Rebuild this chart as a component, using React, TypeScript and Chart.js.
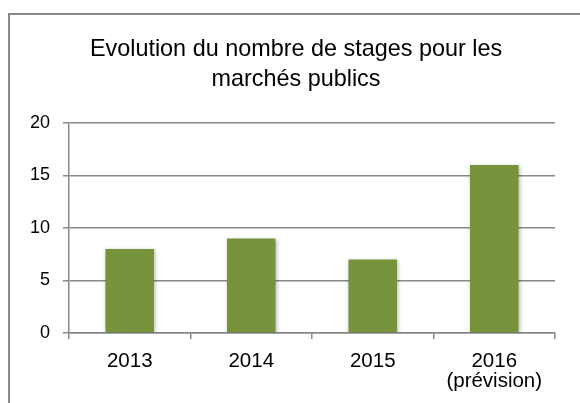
import React, { useEffect, useRef } from "react";
import { Chart, registerables } from "chart.js";

Chart.register(...registerables);

const categories: (string | string[])[] = ["2013", "2014", "2015", ["2016", "(prévision)"]];
const stages: number[] = [8, 9, 7, 16];
const titleLines: string[] = ["Evolution du nombre de stages pour les", "marchés publics"];
const yMin = 0;
const yMax = 20;
const yStep = 5;

const GRID = "#888888";
const BAR = "#77933C";
const FONT = "'Liberation Sans', Arial, sans-serif";

const shadowPlugin = {
  id: "barShadow",
  beforeDatasetsDraw(chart: any) {
    const ctx = chart.ctx;
    ctx.save();
    ctx.shadowColor = "rgba(0,0,0,0.28)";
    ctx.shadowBlur = 4;
    ctx.shadowOffsetX = 1;
    ctx.shadowOffsetY = 1;
  },
  afterDatasetsDraw(chart: any) {
    chart.ctx.restore();
  },
};

// widen the y-axis label clip region so the tick labels are not cut off
const unclipPlugin = {
  id: "unclipY",
  afterLayout(chart: any) {
    if (chart.scales.y) chart.scales.y.left = 0;
  },
};

export default function App() {
  const ref = useRef<HTMLCanvasElement | null>(null);
  useEffect(() => {
    if (!ref.current) return;
    const chart = new Chart(ref.current, {
      type: "bar",
      data: {
        labels: categories,
        datasets: [
          {
            data: stages,
            backgroundColor: BAR,
            borderWidth: 0,
            categoryPercentage: 1,
            barPercentage: 0.4,
          },
        ],
      },
      options: {
        responsive: false,
        animation: false,
        devicePixelRatio: 1,
        layout: { padding: { top: 20, left: 37, right: 25, bottom: 0 } },
        plugins: {
          legend: { display: false },
          tooltip: { enabled: false },
          title: {
            display: true,
            text: titleLines,
            color: "#000",
            font: { family: FONT, size: 23.4, weight: "normal", lineHeight: "30px" },
            padding: { top: 15, bottom: 28 },
          },
        },
        scales: {
          x: {
            grid: {
              offset: true,
              drawOnChartArea: false,
              drawTicks: true,
              tickLength: 6,
              color: GRID,
              lineWidth: 1.5,
            },
            border: { display: true, color: GRID, width: 1.5 },
            ticks: {
              color: "#000",
              font: { family: FONT, size: 20.5, lineHeight: "20px" },
              padding: 12,
              maxRotation: 0,
            },
            afterFit: (s: any) => {
              s.height = 70;
            },
          },
          y: {
            min: yMin,
            max: yMax,
            grid: {
              color: GRID,
              lineWidth: 1.5,
              drawTicks: true,
              tickLength: 6,
            },
            border: { display: true, color: GRID, width: 1.5 },
            ticks: {
              stepSize: yStep,
              color: "#000",
              font: { family: FONT, size: 18 },
              padding: 13,
            },
            afterFit: (s: any) => {
              s.width = 32;
            },
          },
        },
      },
      plugins: [shadowPlugin, unclipPlugin],
    });
    return () => chart.destroy();
  }, []);

  return (
    <div style={{ position: "absolute", left: 0, top: 0, width: 580, height: 403, background: "#fff", overflow: "hidden" }}>
      <div
        style={{
          position: "absolute",
          left: 8,
          top: 13,
          width: 600,
          height: 420,
          borderLeft: "2px solid #888",
          borderTop: "2px solid #888",
          boxSizing: "border-box",
        }}
      />
      <canvas ref={ref} width={580} height={403} style={{ position: "absolute", left: 0, top: 0, width: 580, height: 403 }} />
    </div>
  );
}
